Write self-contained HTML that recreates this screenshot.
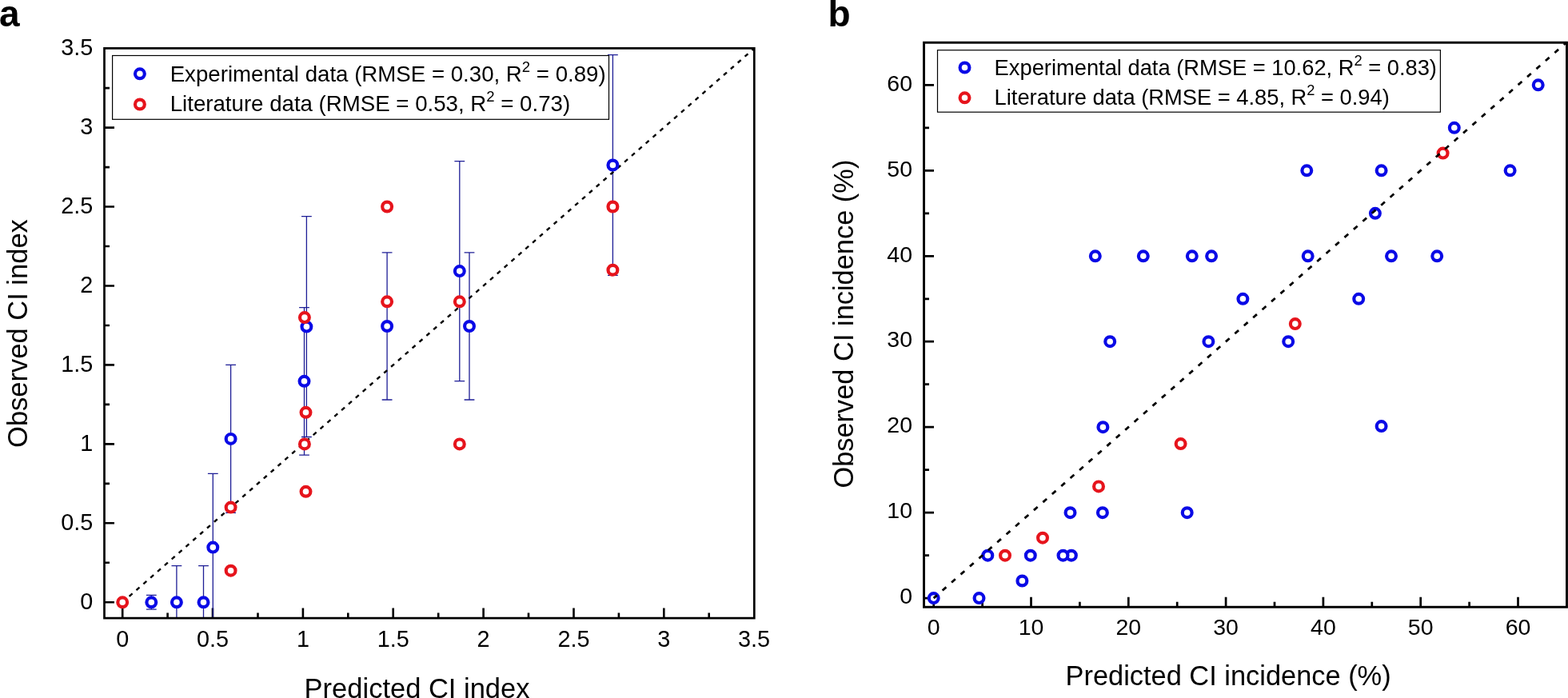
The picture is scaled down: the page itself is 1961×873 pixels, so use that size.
<!DOCTYPE html>
<html><head><meta charset="utf-8"><title>CI index</title>
<style>html,body{margin:0;padding:0;background:#fff;width:1961px;height:873px;overflow:hidden}svg{display:block}</style>
</head><body>
<svg width="1961" height="873" viewBox="0 0 1961 873" font-family="'Liberation Sans', Arial, sans-serif" fill="#000">
<rect width="1961" height="873" fill="#fff"/>
<text x="-0.9" y="32.8" font-size="46" font-weight="bold">a</text>
<path d="M153.2 773.1V760.6M130.5 753.3H143.0M209.6 773.1V766.6M130.5 703.8H137.0M266.0 773.1V760.6M130.5 654.3H143.0M322.5 773.1V766.6M130.5 604.9H137.0M378.9 773.1V760.6M130.5 555.4H143.0M435.3 773.1V766.6M130.5 505.9H137.0M491.7 773.1V760.6M130.5 456.4H143.0M548.2 773.1V766.6M130.5 407.0H137.0M604.6 773.1V760.6M130.5 357.5H143.0M661.0 773.1V766.6M130.5 308.0H137.0M717.5 773.1V760.6M130.5 258.5H143.0M773.9 773.1V766.6M130.5 209.1H137.0M830.3 773.1V760.6M130.5 159.6H143.0M886.7 773.1V766.6M130.5 110.1H137.0" stroke="#000" stroke-width="2.6" fill="none"/>
<text x="153.2" y="808.6" font-size="28.8" text-anchor="middle">0</text>
<text x="116.3" y="761.8" font-size="28.8" text-anchor="end">0</text>
<text x="266.0" y="808.6" font-size="28.8" text-anchor="middle">0.5</text>
<text x="116.3" y="662.8" font-size="28.8" text-anchor="end">0.5</text>
<text x="378.9" y="808.6" font-size="28.8" text-anchor="middle">1</text>
<text x="116.3" y="563.9" font-size="28.8" text-anchor="end">1</text>
<text x="491.7" y="808.6" font-size="28.8" text-anchor="middle">1.5</text>
<text x="116.3" y="464.9" font-size="28.8" text-anchor="end">1.5</text>
<text x="604.6" y="808.6" font-size="28.8" text-anchor="middle">2</text>
<text x="116.3" y="366.0" font-size="28.8" text-anchor="end">2</text>
<text x="717.5" y="808.6" font-size="28.8" text-anchor="middle">2.5</text>
<text x="116.3" y="267.0" font-size="28.8" text-anchor="end">2.5</text>
<text x="830.3" y="808.6" font-size="28.8" text-anchor="middle">3</text>
<text x="116.3" y="168.1" font-size="28.8" text-anchor="end">3</text>
<text x="943.1" y="808.6" font-size="28.8" text-anchor="middle">3.5</text>
<text x="116.3" y="69.1" font-size="28.8" text-anchor="end">3.5</text>
<text x="380.6" y="873" font-size="34.5">Predicted CI index</text>
<text transform="translate(33.9 559.9) rotate(-90)" font-size="34.5">Observed CI index</text>
<path d="M189.3 744.4V762.2M182.9 744.4H195.7M182.9 762.2H195.7M220.9 707.6V773.1M214.5 707.6H227.3M254.5 707.6V773.1M248.1 707.6H260.9M266.3 592.4V773.1M259.9 592.4H272.7M288.6 456.4V641.3M282.2 456.4H295.0M282.2 641.3H295.0M380.5 384.6V569.1M374.1 384.6H386.9M374.1 569.1H386.9M383.4 270.6V546.5M377.0 270.6H389.8M377.0 546.5H389.8M484.1 315.9V500.0M477.7 315.9H490.5M477.7 500.0H490.5M574.8 201.6V476.6M568.4 201.6H581.2M568.4 476.6H581.2M587.0 315.9V500.0M580.6 315.9H593.4M580.6 500.0H593.4M766.4 68.6V344.4M760.0 68.6H772.8M760.0 344.4H772.8" stroke="#1e1e96" stroke-width="1.3" fill="none"/>
<line x1="153.2" y1="753.3" x2="943.1" y2="60.6" stroke="#000" stroke-width="2.4" stroke-dasharray="5.2 6.57" stroke-dashoffset="0.5"/>
<circle cx="189.3" cy="753.3" r="5.9" fill="#fff" stroke="#0a0ae6" stroke-width="4.2"/>
<circle cx="220.9" cy="753.3" r="5.9" fill="#fff" stroke="#0a0ae6" stroke-width="4.2"/>
<circle cx="254.5" cy="753.3" r="5.9" fill="#fff" stroke="#0a0ae6" stroke-width="4.2"/>
<circle cx="266.3" cy="684.6" r="5.9" fill="#fff" stroke="#0a0ae6" stroke-width="4.2"/>
<circle cx="288.6" cy="548.9" r="5.9" fill="#fff" stroke="#0a0ae6" stroke-width="4.2"/>
<circle cx="380.5" cy="476.8" r="5.9" fill="#fff" stroke="#0a0ae6" stroke-width="4.2"/>
<circle cx="383.4" cy="408.6" r="5.9" fill="#fff" stroke="#0a0ae6" stroke-width="4.2"/>
<circle cx="484.1" cy="408.0" r="5.9" fill="#fff" stroke="#0a0ae6" stroke-width="4.2"/>
<circle cx="574.8" cy="339.1" r="5.9" fill="#fff" stroke="#0a0ae6" stroke-width="4.2"/>
<circle cx="587.0" cy="408.0" r="5.9" fill="#fff" stroke="#0a0ae6" stroke-width="4.2"/>
<circle cx="766.4" cy="206.5" r="5.9" fill="#fff" stroke="#0a0ae6" stroke-width="4.2"/>
<circle cx="153.2" cy="753.3" r="5.9" fill="#fff" stroke="#e6141c" stroke-width="4.2"/>
<circle cx="288.6" cy="634.6" r="5.9" fill="#fff" stroke="#e6141c" stroke-width="4.2"/>
<circle cx="288.6" cy="713.7" r="5.9" fill="#fff" stroke="#e6141c" stroke-width="4.2"/>
<circle cx="380.9" cy="397.1" r="5.9" fill="#fff" stroke="#e6141c" stroke-width="4.2"/>
<circle cx="382.5" cy="515.8" r="5.9" fill="#fff" stroke="#e6141c" stroke-width="4.2"/>
<circle cx="380.9" cy="555.4" r="5.9" fill="#fff" stroke="#e6141c" stroke-width="4.2"/>
<circle cx="382.5" cy="614.8" r="5.9" fill="#fff" stroke="#e6141c" stroke-width="4.2"/>
<circle cx="484.1" cy="258.5" r="5.9" fill="#fff" stroke="#e6141c" stroke-width="4.2"/>
<circle cx="484.1" cy="377.3" r="5.9" fill="#fff" stroke="#e6141c" stroke-width="4.2"/>
<circle cx="574.8" cy="377.3" r="5.9" fill="#fff" stroke="#e6141c" stroke-width="4.2"/>
<circle cx="574.8" cy="555.4" r="5.9" fill="#fff" stroke="#e6141c" stroke-width="4.2"/>
<circle cx="766.4" cy="258.5" r="5.9" fill="#fff" stroke="#e6141c" stroke-width="4.2"/>
<circle cx="766.4" cy="337.7" r="5.9" fill="#fff" stroke="#e6141c" stroke-width="4.2"/>
<rect x="130.5" y="60.4" width="812.8" height="712.7" fill="none" stroke="#000" stroke-width="2.7"/>
<rect x="140.6" y="69.5" width="620.9" height="79.8" fill="#fff" stroke="#000" stroke-width="1.2"/>
<circle cx="174.9" cy="92.3" r="5.9" fill="#fff" stroke="#0a0ae6" stroke-width="4.2"/>
<circle cx="174.9" cy="130.5" r="5.9" fill="#fff" stroke="#e6141c" stroke-width="4.2"/>
<text x="212.7" y="101.6" font-size="27.65">Experimental data (RMSE = 0.30, R<tspan font-size="18.53" dy="-11.89">2</tspan><tspan dy="11.89"> = 0.89)</tspan></text>
<text x="212.7" y="139.1" font-size="27.65">Literature data (RMSE = 0.53, R<tspan font-size="18.53" dy="-11.89">2</tspan><tspan dy="11.89"> = 0.73)</tspan></text>
<text x="1035.4" y="33" font-size="46" font-weight="bold">b</text>
<path d="M1167.7 759.2V746.8M1155.5 748.1H1168.0M1228.6 759.2V752.8M1155.5 694.7H1162.0M1289.5 759.2V746.8M1155.5 641.2H1168.0M1350.4 759.2V752.8M1155.5 587.7H1162.0M1411.3 759.2V746.8M1155.5 534.2H1168.0M1472.2 759.2V752.8M1155.5 480.7H1162.0M1533.1 759.2V746.8M1155.5 427.2H1168.0M1594.0 759.2V752.8M1155.5 373.8H1162.0M1654.9 759.2V746.8M1155.5 320.3H1168.0M1715.8 759.2V752.8M1155.5 266.8H1162.0M1776.7 759.2V746.8M1155.5 213.3H1168.0M1837.6 759.2V752.8M1155.5 159.8H1162.0M1898.5 759.2V746.8M1155.5 106.3H1168.0" stroke="#000" stroke-width="2.7" fill="none"/>
<text x="1167.7" y="794.1" font-size="28.5" text-anchor="middle">0</text>
<text x="1141" y="755.4" font-size="28.5" text-anchor="end">0</text>
<text x="1289.5" y="794.1" font-size="28.5" text-anchor="middle">10</text>
<text x="1141" y="648.4" font-size="28.5" text-anchor="end">10</text>
<text x="1411.3" y="794.1" font-size="28.5" text-anchor="middle">20</text>
<text x="1141" y="541.4" font-size="28.5" text-anchor="end">20</text>
<text x="1533.1" y="794.1" font-size="28.5" text-anchor="middle">30</text>
<text x="1141" y="434.4" font-size="28.5" text-anchor="end">30</text>
<text x="1654.9" y="794.1" font-size="28.5" text-anchor="middle">40</text>
<text x="1141" y="327.5" font-size="28.5" text-anchor="end">40</text>
<text x="1776.7" y="794.1" font-size="28.5" text-anchor="middle">50</text>
<text x="1141" y="220.5" font-size="28.5" text-anchor="end">50</text>
<text x="1898.5" y="794.1" font-size="28.5" text-anchor="middle">60</text>
<text x="1141" y="113.5" font-size="28.5" text-anchor="end">60</text>
<text x="1332.5" y="856.5" font-size="34.4">Predicted CI incidence (%)</text>
<text transform="translate(1066.5 610.6) rotate(-90)" font-size="34.4">Observed CI incidence (%)</text>
<circle cx="1167.7" cy="748.1" r="5.9" fill="#fff" stroke="#0a0ae6" stroke-width="4.2"/>
<circle cx="1224.5" cy="748.1" r="5.9" fill="#fff" stroke="#0a0ae6" stroke-width="4.2"/>
<circle cx="1235.3" cy="694.7" r="5.9" fill="#fff" stroke="#0a0ae6" stroke-width="4.2"/>
<circle cx="1278.4" cy="726.5" r="5.9" fill="#fff" stroke="#0a0ae6" stroke-width="4.2"/>
<circle cx="1288.8" cy="694.7" r="5.9" fill="#fff" stroke="#0a0ae6" stroke-width="4.2"/>
<circle cx="1339.9" cy="694.7" r="5.9" fill="#fff" stroke="#0a0ae6" stroke-width="4.2"/>
<circle cx="1329.5" cy="694.7" r="5.9" fill="#fff" stroke="#0a0ae6" stroke-width="4.2"/>
<circle cx="1338.5" cy="641.2" r="5.9" fill="#fff" stroke="#0a0ae6" stroke-width="4.2"/>
<circle cx="1378.9" cy="641.2" r="5.9" fill="#fff" stroke="#0a0ae6" stroke-width="4.2"/>
<circle cx="1369.8" cy="320.3" r="5.9" fill="#fff" stroke="#0a0ae6" stroke-width="4.2"/>
<circle cx="1429.8" cy="320.3" r="5.9" fill="#fff" stroke="#0a0ae6" stroke-width="4.2"/>
<circle cx="1490.8" cy="320.3" r="5.9" fill="#fff" stroke="#0a0ae6" stroke-width="4.2"/>
<circle cx="1515.1" cy="320.3" r="5.9" fill="#fff" stroke="#0a0ae6" stroke-width="4.2"/>
<circle cx="1554.4" cy="373.8" r="5.9" fill="#fff" stroke="#0a0ae6" stroke-width="4.2"/>
<circle cx="1388.2" cy="427.2" r="5.9" fill="#fff" stroke="#0a0ae6" stroke-width="4.2"/>
<circle cx="1511.4" cy="427.2" r="5.9" fill="#fff" stroke="#0a0ae6" stroke-width="4.2"/>
<circle cx="1379.4" cy="534.2" r="5.9" fill="#fff" stroke="#0a0ae6" stroke-width="4.2"/>
<circle cx="1484.7" cy="641.2" r="5.9" fill="#fff" stroke="#0a0ae6" stroke-width="4.2"/>
<circle cx="1634.3" cy="213.3" r="5.9" fill="#fff" stroke="#0a0ae6" stroke-width="4.2"/>
<circle cx="1727.6" cy="213.3" r="5.9" fill="#fff" stroke="#0a0ae6" stroke-width="4.2"/>
<circle cx="1719.9" cy="266.8" r="5.9" fill="#fff" stroke="#0a0ae6" stroke-width="4.2"/>
<circle cx="1635.7" cy="320.3" r="5.9" fill="#fff" stroke="#0a0ae6" stroke-width="4.2"/>
<circle cx="1740.0" cy="320.3" r="5.9" fill="#fff" stroke="#0a0ae6" stroke-width="4.2"/>
<circle cx="1699.2" cy="373.8" r="5.9" fill="#fff" stroke="#0a0ae6" stroke-width="4.2"/>
<circle cx="1611.2" cy="427.2" r="5.9" fill="#fff" stroke="#0a0ae6" stroke-width="4.2"/>
<circle cx="1727.6" cy="533.1" r="5.9" fill="#fff" stroke="#0a0ae6" stroke-width="4.2"/>
<circle cx="1923.7" cy="106.3" r="5.9" fill="#fff" stroke="#0a0ae6" stroke-width="4.2"/>
<circle cx="1818.8" cy="159.8" r="5.9" fill="#fff" stroke="#0a0ae6" stroke-width="4.2"/>
<circle cx="1888.6" cy="213.3" r="5.9" fill="#fff" stroke="#0a0ae6" stroke-width="4.2"/>
<circle cx="1797.2" cy="320.3" r="5.9" fill="#fff" stroke="#0a0ae6" stroke-width="4.2"/>
<circle cx="1257.0" cy="694.7" r="5.9" fill="#fff" stroke="#e6141c" stroke-width="4.2"/>
<circle cx="1304.0" cy="672.7" r="5.9" fill="#fff" stroke="#e6141c" stroke-width="4.2"/>
<circle cx="1374.0" cy="608.4" r="5.9" fill="#fff" stroke="#e6141c" stroke-width="4.2"/>
<circle cx="1476.6" cy="555.1" r="5.9" fill="#fff" stroke="#e6141c" stroke-width="4.2"/>
<circle cx="1619.8" cy="405.1" r="5.9" fill="#fff" stroke="#e6141c" stroke-width="4.2"/>
<circle cx="1804.6" cy="191.6" r="5.9" fill="#fff" stroke="#e6141c" stroke-width="4.2"/>
<line x1="1167.7" y1="748.1" x2="1959.4" y2="52.8" stroke="#000" stroke-width="2.8" stroke-dasharray="6.3 8.91" stroke-dashoffset="0.65"/>
<rect x="1155.5" y="53.25" width="804.0" height="706.0" fill="none" stroke="#000" stroke-width="2.9"/>
<rect x="1172.5" y="62.7" width="628.9" height="77.5" fill="#fff" stroke="#000" stroke-width="1.2"/>
<circle cx="1206.5" cy="84.5" r="5.9" fill="#fff" stroke="#0a0ae6" stroke-width="4.2"/>
<circle cx="1206.5" cy="122.3" r="5.9" fill="#fff" stroke="#e6141c" stroke-width="4.2"/>
<text x="1243.6" y="93.5" font-size="27.3">Experimental data (RMSE = 10.62, R<tspan font-size="18.29" dy="-11.74">2</tspan><tspan dy="11.74"> = 0.83)</tspan></text>
<text x="1243.6" y="130.8" font-size="27.3">Literature data (RMSE = 4.85, R<tspan font-size="18.29" dy="-11.74">2</tspan><tspan dy="11.74"> = 0.94)</tspan></text>
</svg>
</body></html>
